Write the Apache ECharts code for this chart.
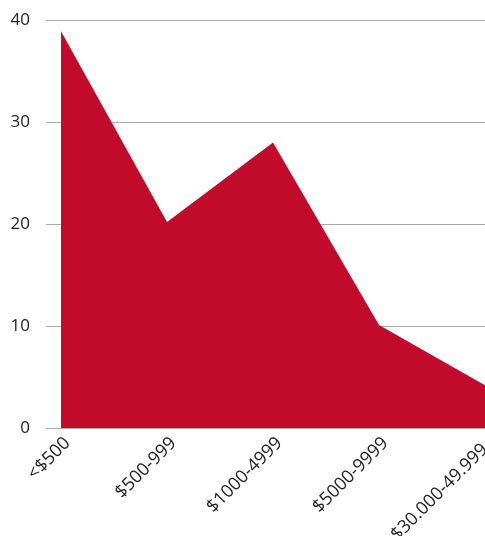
<!DOCTYPE html>
<html>
<head>
<meta charset="utf-8">
<script src="https://cdn.jsdelivr.net/npm/echarts@6/dist/echarts.min.js"></script>
<style>
  html, body { margin: 0; padding: 0; background: #fff; }
  #chart { width: 485px; height: 536px; }
</style>
</head>
<body>
<div id="chart"></div>
<script>
// data
var categories = ["<$500", "$500-999", "$1000-4999", "$5000-9999", "$30.000-49.999"];
var counts = [38.9, 20.2, 28.0, 10.1, 4.2];
var yTicks = [0, 10, 20, 30, 40];

var myChart = echarts.init(document.getElementById("chart"));

var font = "'Open Sans', 'Noto Sans', sans-serif";

myChart.setOption({
  animation: false,
  grid: [
    // grid for the y axis and its split lines
    { left: 46, right: 0, top: 20, bottom: 108, outerBoundsMode: "none" },
    // grid for the area itself, starts a bit to the right
    { left: 61, right: 0, top: 20, bottom: 108, outerBoundsMode: "none" }
  ],
  xAxis: [
    {
      gridIndex: 0, type: "value", min: 0, max: 1, show: false
    },
    {
      gridIndex: 1,
      type: "category",
      data: categories,
      boundaryGap: false,
      axisLine: { show: false },
      axisTick: { show: false },
      axisLabel: {
        rotate: 45,
        interval: 0,
        margin: 6,
        fontSize: 18,
        fontFamily: font,
        color: "#222",
        verticalAlign: "top",
        hideOverlap: false,
        // last label is pulled back a little so it stays inside the page
        formatter: function (v, i) {
          return i === categories.length - 1 ? "{last|" + v + "}" : v;
        },
        rich: {
          last: {
            fontSize: 18,
            fontFamily: font,
            color: "#222",
            padding: [0, 9, 0, 0]
          }
        }
      }
    }
  ],
  yAxis: [
    {
      gridIndex: 0,
      type: "value",
      min: yTicks[0],
      max: yTicks[yTicks.length - 1],
      interval: 10,
      axisLine: { show: false },
      axisTick: { show: false },
      axisLabel: {
        margin: 16,
        fontSize: 17,
        fontFamily: font,
        color: "#222"
      },
      splitLine: { show: true, lineStyle: { color: "#aaa", width: 1 } }
    },
    {
      gridIndex: 1,
      type: "value",
      min: yTicks[0],
      max: yTicks[yTicks.length - 1],
      show: false
    }
  ],
  series: [
    {
      type: "line",
      xAxisIndex: 1,
      yAxisIndex: 1,
      data: counts,
      symbol: "none",
      lineStyle: { width: 0 },
      areaStyle: { color: "#C20B2A", opacity: 1 }
    }
  ]
});
</script>
</body>
</html>
